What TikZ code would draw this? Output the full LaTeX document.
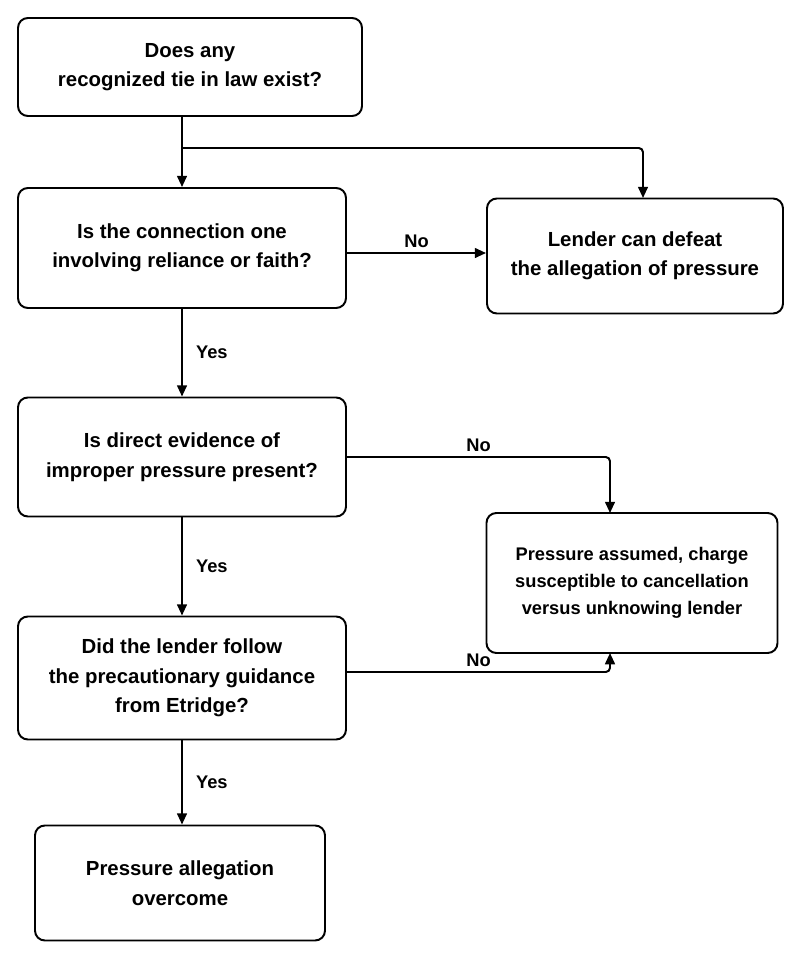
\documentclass[tikz,border=0pt]{standalone}
\usepackage{fontspec}
\setmainfont{Liberation Sans}
\usetikzlibrary{arrows.meta,positioning}

\begin{document}
\begin{tikzpicture}[x=0.025cm,y=-0.025cm,
    box/.style={draw, rounded corners=7pt, line width=1.4pt, align=center, font=\fontsize{14.5}{21}\selectfont\bfseries},
    link/.style={line width=1.4pt, -{Triangle[length=8pt,width=7pt]}},
    lbl/.style={font=\fontsize{13}{16}\selectfont\bfseries}]
    \useasboundingbox (0,0) rectangle (802,960);
    \node (tie) [box, minimum width=344*0.025cm, minimum height=98*0.025cm] at (190,67) {Does any\\recognized tie in law exist?};
    \node (faith) [box, minimum width=328*0.025cm, minimum height=120*0.025cm] at (182,248) {Is the connection one\\involving reliance or faith?};
    \node (defeat) [box, minimum width=296*0.025cm, minimum height=115*0.025cm] at (635,256) {Lender can defeat\\the allegation of pressure};
    \node (direct) [box, minimum width=328*0.025cm, minimum height=119*0.025cm] at (182,457) {Is direct evidence of\\improper pressure present?};
    \node (assumed) [box, minimum width=291*0.025cm, minimum height=140*0.025cm, font=\fontsize{13}{19}\selectfont\bfseries] at (632,583) {Pressure assumed, charge\\susceptible to cancellation\\versus unknowing lender};
    \node (etridge) [box, minimum width=328*0.025cm, minimum height=123*0.025cm] at (182,678) {Did the lender follow\\the precautionary guidance\\from Etridge?};
    \node (overcome) [box, minimum width=290*0.025cm, minimum height=115*0.025cm] at (180,883) {Pressure allegation\\overcome};

    \coordinate (split) at (182,148);
    \draw [link] (tie.south -| split) -- (faith.north -| split);
    \draw [link, rounded corners=3pt] (split) -| (643,198);
    \draw [link] (faith.east |- 0,253) -- node[lbl, above] {No} (defeat.west |- 0,253);
    \draw [link] (faith.south -| split) -- node[lbl, right=6pt] {Yes} (direct.north -| split);
    \draw [link, rounded corners=3pt] (direct.east) -| node[lbl, pos=0.25, above] {No} (610,513);
    \draw [link] (direct.south -| split) -- node[lbl, right=6pt] {Yes} (etridge.north -| split);
    \draw [link, rounded corners=3pt] (etridge.east |- 0,672) -| node[lbl, pos=0.25, above] {No} (610,653);
    \draw [link] (etridge.south -| split) -- node[lbl, right=6pt] {Yes} (overcome.north -| split);
\end{tikzpicture}
\end{document}
